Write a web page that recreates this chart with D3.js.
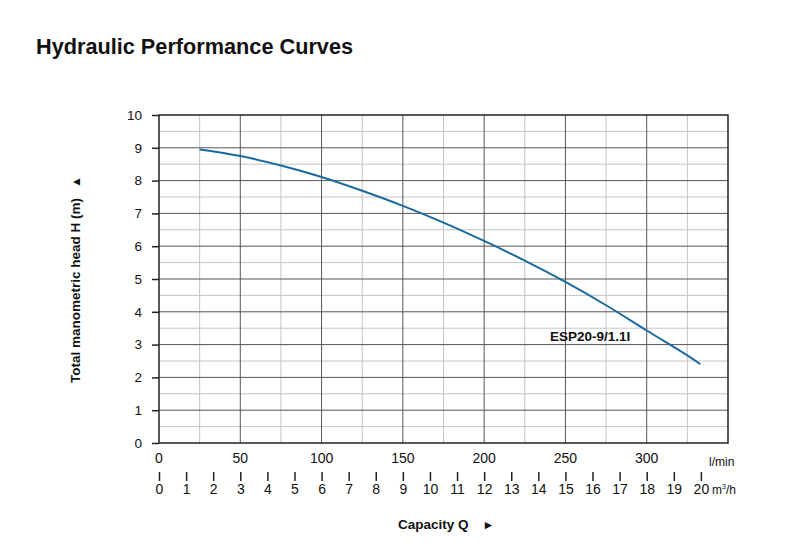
<!DOCTYPE html>
<html>
<head>
<meta charset="utf-8">
<script src="https://cdn.jsdelivr.net/npm/d3@7"></script>
<style>
  body { margin: 0; background: #fff; }
  text { font-family: "Liberation Sans", Arial, sans-serif; fill: #111; }
  .domain { display: none; }
</style>
</head>
<body>
<svg id="chart" width="800" height="543"></svg>
<script>
// curve: flow in l/min, head in m
const flowLpm = [25, 50, 75, 100, 125, 150, 175, 200, 225, 250, 275, 300, 325, 333];
const headM = [8.95, 8.75, 8.46, 8.11, 7.69, 7.23, 6.72, 6.16, 5.56, 4.91, 4.20, 3.43, 2.67, 2.40];

const headTicks = [0, 1, 2, 3, 4, 5, 6, 7, 8, 9, 10];
const lpmTicks = [0, 50, 100, 150, 200, 250, 300];
const m3hTicks = d3.range(0, 21);

const curveName = "ESP20-9/1.1I";

var svg = d3.select("#chart"),
    plotLeft = 159, plotRight = 728, plotTop = 115, plotBottom = 443;

var x = d3.scaleLinear().domain([0, 350]).range([plotLeft, plotRight]);
var y = d3.scaleLinear().domain([0, 10]).range([plotBottom, plotTop]);
// second scale, 1 m3/h = 1000/60 l/min
var xm = d3.scaleLinear().domain([0, 21]).range([plotLeft, x(21 * 1000 / 60)]);

// title
svg.append("text")
    .attr("x", 36).attr("y", 54)
    .attr("font-size", 21.7).attr("font-weight", "bold")
    .text("Hydraulic Performance Curves");

// minor grid
svg.append("g").selectAll("line")
    .data(d3.range(25, 350, 50))
    .enter().append("line")
    .attr("x1", d => x(d)).attr("x2", d => x(d))
    .attr("y1", plotTop).attr("y2", plotBottom)
    .attr("stroke", "#c4c4c4").attr("stroke-width", 1);

svg.append("g").selectAll("line")
    .data(d3.range(0.5, 10, 1))
    .enter().append("line")
    .attr("x1", plotLeft).attr("x2", plotRight)
    .attr("y1", d => y(d)).attr("y2", d => y(d))
    .attr("stroke", "#c4c4c4").attr("stroke-width", 1);

// major grid
svg.append("g").selectAll("line")
    .data(d3.range(50, 350, 50))
    .enter().append("line")
    .attr("x1", d => x(d)).attr("x2", d => x(d))
    .attr("y1", plotTop).attr("y2", plotBottom)
    .attr("stroke", "#555").attr("stroke-width", 1);

svg.append("g").selectAll("line")
    .data(d3.range(1, 10))
    .enter().append("line")
    .attr("x1", plotLeft).attr("x2", plotRight)
    .attr("y1", d => y(d)).attr("y2", d => y(d))
    .attr("stroke", "#555").attr("stroke-width", 1);

// frame
svg.append("rect")
    .attr("x", plotLeft).attr("y", plotTop)
    .attr("width", plotRight - plotLeft).attr("height", plotBottom - plotTop)
    .attr("fill", "none").attr("stroke", "#222").attr("stroke-width", 1.5);

// y axis
var yAxis = svg.append("g")
    .attr("transform", "translate(" + plotLeft + ",0)")
    .call(d3.axisLeft(y).tickValues(headTicks).tickSize(7).tickPadding(10));
yAxis.selectAll(".tick line").attr("stroke", "#222").attr("stroke-width", 1.5);
yAxis.selectAll("text").attr("font-size", 13.5).attr("fill", "#111")
    .attr("font-family", "Liberation Sans, Arial, sans-serif");

// l/min labels
svg.append("g").selectAll("text")
    .data(lpmTicks)
    .enter().append("text")
    .attr("x", d => x(d)).attr("y", 463)
    .attr("text-anchor", "middle").attr("font-size", 14)
    .text(d => d);

svg.append("text")
    .attr("x", 709).attr("y", 466)
    .attr("font-size", 12)
    .text("l/min");

// m3/h axis
var mAxis = svg.append("g")
    .attr("transform", "translate(0,472)")
    .call(d3.axisBottom(xm).tickValues(m3hTicks).tickSize(9).tickPadding(3).tickFormat(d3.format("d")));
mAxis.select(".domain").style("display", null)
    .attr("d", "M" + plotLeft + ",0H" + plotRight).attr("stroke", "#222").attr("stroke-width", 1.5);
mAxis.selectAll(".tick line").attr("stroke", "#222").attr("stroke-width", 1.5);
mAxis.selectAll("text").attr("font-size", 14).attr("fill", "#111")
    .attr("font-family", "Liberation Sans, Arial, sans-serif");

var unit = svg.append("text")
    .attr("x", 712).attr("y", 494)
    .attr("font-size", 12);
unit.append("tspan").text("m");
unit.append("tspan").attr("font-size", 7).attr("dy", -5).text("3");
unit.append("tspan").attr("dy", 5).text("/h");

// curve
var line = d3.line()
    .curve(d3.curveCatmullRom)
    .x((d, i) => x(flowLpm[i]))
    .y(d => y(d));

svg.append("path")
    .datum(headM)
    .attr("d", line)
    .attr("fill", "none")
    .attr("stroke", "#1b6b9e")
    .attr("stroke-width", 2);

svg.append("text")
    .attr("x", 550).attr("y", 341)
    .attr("font-size", 13.5).attr("font-weight", "bold")
    .text(curveName);

// axis titles
var yTitle = svg.append("text")
    .attr("transform", "translate(80,383) rotate(-90)")
    .attr("font-size", 13.5).attr("font-weight", "bold");
yTitle.append("tspan").text("Total manometric head H (m)");
yTitle.append("tspan").attr("dx", 10).attr("font-size", 12).text("\u25B2");

var xTitle = svg.append("text")
    .attr("x", 398).attr("y", 529)
    .attr("font-size", 13.5).attr("font-weight", "bold");
xTitle.append("tspan").text("Capacity Q");
xTitle.append("tspan").attr("dx", 14).attr("font-size", 12).text("\u25BA");
</script>
</body>
</html>
